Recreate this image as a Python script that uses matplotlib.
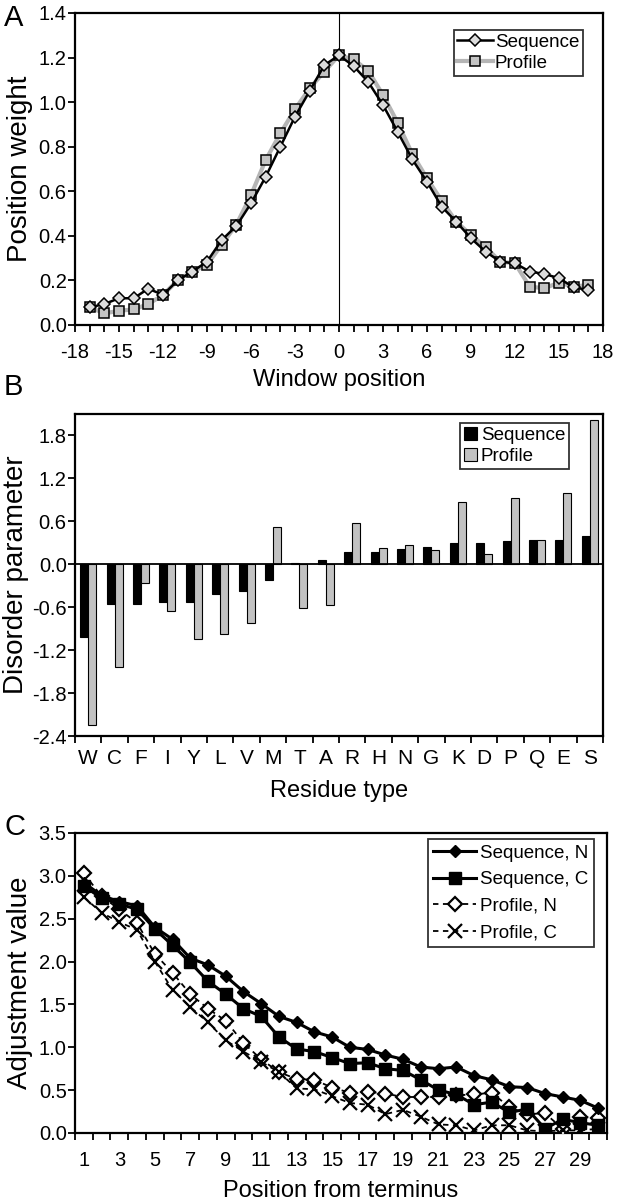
import matplotlib
matplotlib.use("Agg")
import matplotlib.pyplot as plt
import numpy as np
from matplotlib.ticker import MultipleLocator, FixedLocator, FormatStrFormatter

plt.rcParams['font.family'] = ['Liberation Sans', 'DejaVu Sans']
plt.rcParams['axes.unicode_minus'] = False

# ---------------- Panel A data ----------------
a_positions = list(range(-17, 18))
a_sequence = [0.079, 0.094, 0.12, 0.12, 0.163, 0.135, 0.20, 0.24, 0.284, 0.381, 0.444, 0.546,
              0.665, 0.80, 0.935, 1.05, 1.166, 1.21,
              1.162, 1.09, 0.987, 0.867, 0.743, 0.643, 0.531, 0.463, 0.389, 0.329, 0.284,
              0.277, 0.24, 0.229, 0.21, 0.169, 0.157]
a_profile = [0.08, 0.052, 0.064, 0.07, 0.094, 0.135, 0.20, 0.24, 0.27, 0.36, 0.45, 0.583,
             0.74, 0.86, 0.968, 1.062, 1.137, 1.21,
             1.192, 1.14, 1.032, 0.908, 0.767, 0.658, 0.558, 0.463, 0.404, 0.349, 0.284,
             0.277, 0.172, 0.165, 0.19, 0.172, 0.18]
a_xticks = list(range(-18, 19, 3))
a_yticks = [0.0, 0.2, 0.4, 0.6, 0.8, 1.0, 1.2, 1.4]

# ---------------- Panel B data ----------------
residues = ['W', 'C', 'F', 'I', 'Y', 'L', 'V', 'M', 'T', 'A',
            'R', 'H', 'N', 'G', 'K', 'D', 'P', 'Q', 'E', 'S']
b_sequence = [-1.01, -0.56, -0.56, -0.53, -0.53, -0.42, -0.38, -0.22, 0.02, 0.06,
              0.17, 0.17, 0.22, 0.24, 0.295, 0.30, 0.32, 0.34, 0.34, 0.39]
b_profile = [-2.24, -1.44, -0.26, -0.65, -1.04, -0.98, -0.82, 0.52, -0.61, -0.57,
             0.58, 0.225, 0.27, 0.20, 0.87, 0.15, 0.92, 0.345, 1.00, 2.02]
b_yticks = [-2.4, -1.8, -1.2, -0.6, 0.0, 0.6, 1.2, 1.8]

# ---------------- Panel C data ----------------
c_positions = list(range(1, 31))
c_seq_n = [2.92, 2.77, 2.70, 2.65, 2.40, 2.26, 2.04, 1.96, 1.83, 1.65,
           1.51, 1.36, 1.29, 1.18, 1.12, 1.00, 0.975, 0.91, 0.86, 0.77,
           0.75, 0.77, 0.67, 0.62, 0.54, 0.53, 0.46, 0.42, 0.38, 0.29]
c_seq_c = [2.88, 2.74, 2.67, 2.61, 2.38, 2.19, 1.99, 1.77, 1.62, 1.45,
           1.36, 1.12, 0.98, 0.95, 0.88, 0.81, 0.82, 0.75, 0.73, 0.62,
           0.50, 0.45, 0.33, 0.36, 0.24, 0.28, 0.05, 0.16, 0.12, 0.09]
c_prof_n = [3.03, 2.76, 2.61, 2.45, 2.09, 1.87, 1.62, 1.45, 1.31, 1.05,
            0.86, 0.71, 0.63, 0.62, 0.53, 0.47, 0.48, 0.46, 0.42, 0.42,
            0.42, 0.44, 0.45, 0.47, 0.30, 0.22, 0.23, 0.05, 0.19, 0.17]
c_prof_c = [2.75, 2.57, 2.46, 2.37, 2.00, 1.67, 1.47, 1.29, 1.08, 0.95,
            0.83, 0.71, 0.52, 0.51, 0.43, 0.35, 0.33, 0.22, 0.27, 0.19,
            0.10, 0.09, 0.03, 0.09, 0.09, 0.03, 0.02, 0.03, 0.03, 0.05]
c_xticklabels = list(range(1, 30, 2))
c_yticks = [0.0, 0.5, 1.0, 1.5, 2.0, 2.5, 3.0, 3.5]

W, H = 618, 1200
fig = plt.figure(figsize=(W / 100, H / 100), dpi=100)

TICK_FS = 14.5
XLAB_FS = 17
YLAB_FS = 20
LEG_FS = 13.5
LETTER_FS = 21
SPINE_LW = 1.6


def axes_px(l, t, r, b):
    return fig.add_axes([l / W, 1 - b / H, (r - l) / W, (b - t) / H])


def style(ax):
    for s in ax.spines.values():
        s.set_linewidth(SPINE_LW)
    ax.tick_params(which='both', direction='out', width=1.3, length=5,
                   labelsize=TICK_FS)
    ax.tick_params(axis='y', pad=1)


# ---------------- Panel A ----------------
axA = axes_px(75, 13, 603, 325)
style(axA)
axA.axvline(0, color='black', lw=0.8, zorder=1)
axA.plot(a_positions, a_profile, color='#b5b5b5', lw=3, marker='s', ms=7,
         mfc='#c4c4c4', mec='black', mew=1.1, label='Profile', zorder=2)
axA.plot(a_positions, a_sequence, color='black', lw=1.8, marker='D', ms=6,
         mfc='#dcdcdc', mec='black', mew=1.1, label='Sequence', zorder=3)
axA.set_xlim(-18, 18)
axA.set_ylim(0, 1.4)
axA.set_xticks(a_xticks)
axA.xaxis.set_minor_locator(MultipleLocator(1))
axA.tick_params(axis='x', which='major', pad=8)
axA.set_yticks(a_yticks)
axA.yaxis.set_major_formatter(FormatStrFormatter('%.1f'))
axA.set_xlabel('Window position', fontsize=XLAB_FS, labelpad=5)
axA.set_ylabel('Position weight', fontsize=YLAB_FS, labelpad=4)
h, l = axA.get_legend_handles_labels()
legA = axA.legend(h[::-1], l[::-1], loc='upper right', bbox_to_anchor=(1 - 20 / 528, 1 - 17 / 312),
                  borderaxespad=0, fontsize=LEG_FS, frameon=True, fancybox=False,
                  edgecolor='black', handlelength=1.9, handletextpad=0.1,
                  borderpad=0.2, labelspacing=0.2)
legA.get_frame().set_linewidth(1.3)

# ---------------- Panel B ----------------
axB = axes_px(75, 414, 603, 736)
style(axB)
x = np.arange(len(residues))
bw = 0.3
axB.bar(x - bw / 2, b_sequence, width=bw, color='black', edgecolor='black', lw=0.8,
        label='Sequence', zorder=2)
axB.bar(x + bw / 2, b_profile, width=bw, color='#c2c2c2', edgecolor='black', lw=0.8,
        label='Profile', zorder=2)
axB.axhline(0, color='black', lw=1.3, zorder=3)
axB.set_xlim(-0.5, len(residues) - 0.5)
axB.set_ylim(-2.4, 2.1)
axB.set_yticks(b_yticks)
axB.yaxis.set_major_formatter(FormatStrFormatter('%.1f'))
axB.set_xticks(x)
axB.set_xticklabels(residues)
axB.xaxis.set_minor_locator(FixedLocator(np.arange(-0.5, len(residues), 1.0)))
axB.tick_params(axis='x', which='major', length=0, labelsize=TICK_FS + 0.5, pad=9)
axB.set_xlabel('Residue type', fontsize=XLAB_FS, labelpad=9)
axB.set_ylabel('Disorder parameter', fontsize=YLAB_FS, labelpad=2)
legB = axB.legend(loc='upper right', bbox_to_anchor=(1 - 34 / 528, 1 - 9 / 322),
                  borderaxespad=0, fontsize=LEG_FS, frameon=True, fancybox=False,
                  edgecolor='black', handlelength=0.7, handleheight=0.7, handletextpad=0.2,
                  borderpad=0.2, labelspacing=0.2)
legB.get_frame().set_linewidth(1.3)

# ---------------- Panel C ----------------
axC = axes_px(75, 833, 607, 1133)
style(axC)
axC.plot(c_positions, c_seq_n, color='black', lw=2.2, marker='D', ms=6,
         mfc='black', mec='black', label='Sequence, N', zorder=4)
axC.plot(c_positions, c_seq_c, color='black', lw=2.2, marker='s', ms=8,
         mfc='black', mec='black', label='Sequence, C', zorder=4)
axC.plot(c_positions, c_prof_n, color='black', lw=1.3, ls=(0, (3, 2.5)), marker='D', ms=7,
         mfc='white', mec='black', mew=1.6, label='Profile, N', zorder=3)
axC.plot(c_positions, c_prof_c, color='black', lw=1.3, ls=(0, (3, 2.5)), marker='x', ms=10,
         mec='black', mew=1.6, label='Profile, C', zorder=3)
axC.set_xlim(0.5, 30.5)
axC.set_ylim(0, 3.5)
axC.set_yticks(c_yticks)
axC.yaxis.set_major_formatter(FormatStrFormatter('%.1f'))
axC.set_xticks(c_xticklabels)
axC.xaxis.set_minor_locator(FixedLocator(np.arange(0.5, 31, 1.0)))
axC.tick_params(axis='x', which='major', length=0, pad=13)
axC.set_xlabel('Position from terminus', fontsize=XLAB_FS, labelpad=7)
axC.set_ylabel('Adjustment value', fontsize=YLAB_FS, labelpad=4)
legC = axC.legend(loc='upper right', bbox_to_anchor=(1 - 13 / 532, 1 - 6 / 300),
                  borderaxespad=0, fontsize=LEG_FS, frameon=True, fancybox=False,
                  edgecolor='black', handlelength=2.3, handletextpad=0.2,
                  borderpad=0.3, labelspacing=0.5)
legC.get_frame().set_linewidth(1.3)

# panel letters
fig.text(4 / W, 1 - 4 / H, 'A', fontsize=LETTER_FS, va='top', ha='left')
fig.text(4 / W, 1 - 373 / H, 'B', fontsize=LETTER_FS, va='top', ha='left')
fig.text(4 / W, 1 - 813 / H, 'C', fontsize=LETTER_FS, va='top', ha='left')

fig.savefig('out.png', dpi=100)
